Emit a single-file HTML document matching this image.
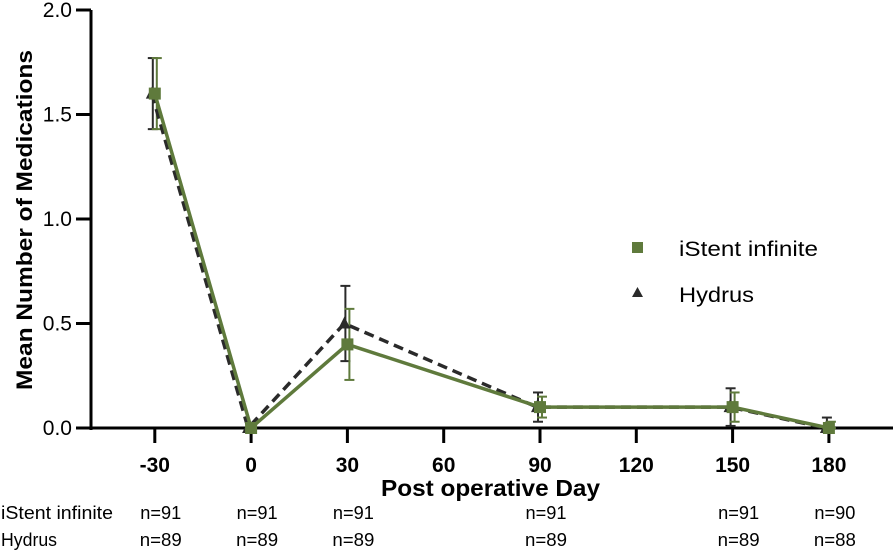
<!DOCTYPE html>
<html><head><meta charset="utf-8"><style>
body{margin:0;background:#fff;}
svg{display:block;font-family:"Liberation Sans",Arial,sans-serif;}
</style></head><body>
<svg id="chart" width="896" height="552" viewBox="0 0 896 552"></svg>
<script>
const days=[-30,0,30,90,150,180];
const xTicks=[-30,0,30,60,90,120,150,180];
const yTicks=[0,0.5,1.0,1.5,2.0];
const istentMean=[1.6,0,0.4,0.1,0.1,0];
const istentLo=[1.43,0,0.23,0.05,0.03,0];
const istentHi=[1.77,0,0.57,0.15,0.17,0.03];
const hydrusMean=[1.6,0,0.5,0.1,0.1,0];
const hydrusLo=[1.43,0,0.32,0.03,0.01,0];
const hydrusHi=[1.77,0,0.68,0.17,0.19,0.05];
const istentN=["n=91","n=91","n=91","n=91","n=91","n=90"];
const hydrusN=["n=89","n=89","n=89","n=89","n=89","n=88"];
const G="#5f7a3c",D="#2a2a2a";
const NS="http://www.w3.org/2000/svg";
const svg=document.getElementById('chart');
const X=v=>540+(v-90)*3.21;
const Y=v=>428-v*209;
function mk(t,a,p){const e=document.createElementNS(NS,t);for(const k in a)e.setAttribute(k,a[k]);(p||svg).appendChild(e);return e;}
function txt(s,a){const e=mk('text',a);e.textContent=s;return e;}
let e=mk('line',{x1:91,y1:Y(2),x2:91,y2:430,stroke:'#000','stroke-width':3});

e=mk('line',{x1:89.5,y1:428,x2:893,y2:428,stroke:'#000','stroke-width':3});

yTicks.forEach(v=>{
 mk('line',{x1:76,y1:Y(v),x2:91,y2:Y(v),stroke:'#000','stroke-width':3});
 e=txt(v.toFixed(1),{x:72,y:Y(v)+7,'text-anchor':'end','font-size':21,fill:'#000'});
 
});
xTicks.forEach(v=>{
 mk('line',{x1:X(v),y1:428,x2:X(v),y2:443,stroke:'#000','stroke-width':3});
 e=txt(String(v),{x:X(v),y:472,'text-anchor':'middle','font-size':21,'font-weight':'bold',fill:'#000'});
 
});
e=txt('Post operative Day',{x:381,y:496,'font-size':23,'font-weight':'bold',textLength:219,lengthAdjust:'spacingAndGlyphs'});

e=txt('Mean Number of Medications',{x:0,y:0,'font-size':22,'font-weight':'bold',textLength:340,lengthAdjust:'spacingAndGlyphs',transform:'translate(32,390) rotate(-90)'});

function errs(lo,hi,col,dx){days.forEach((d,i)=>{if(hi[i]-lo[i]<=0)return;const x=X(d)+dx;
 mk('line',{x1:x,y1:Y(lo[i]),x2:x,y2:Y(hi[i]),stroke:col,'stroke-width':2});
 mk('line',{x1:x-5,y1:Y(lo[i]),x2:x+5,y2:Y(lo[i]),stroke:col,'stroke-width':2});
 mk('line',{x1:x-5,y1:Y(hi[i]),x2:x+5,y2:Y(hi[i]),stroke:col,'stroke-width':2});});}
errs(hydrusLo,hydrusHi,D,-2);
errs(istentLo,istentHi,G,2);
e=mk('polyline',{points:days.map((d,i)=>(X(d)-3)+','+Y(hydrusMean[i])).join(' '),fill:'none',stroke:D,'stroke-width':3.5,'stroke-dasharray':'10,6'});

days.forEach((d,i)=>{const x=X(d)-3,y=Y(hydrusMean[i]);
 e=mk('polygon',{points:`${x},${y-7} ${x-6},${y+5} ${x+6},${y+5}`,fill:D});
 });
e=mk('polyline',{points:days.map((d,i)=>X(d)+','+Y(istentMean[i])).join(' '),fill:'none',stroke:G,'stroke-width':3.5});

days.forEach((d,i)=>{const x=X(d),y=Y(istentMean[i]);
 e=mk('rect',{x:x-6,y:y-6,width:12,height:12,fill:G});
 });
e=mk('rect',{x:632,y:242,width:11,height:11,fill:G});

e=txt('iStent infinite',{x:679,y:256,'font-size':21,textLength:139,lengthAdjust:'spacingAndGlyphs'});

e=mk('polygon',{points:'637.5,287 632,297 643,297',fill:D});

e=txt('Hydrus',{x:679,y:302,'font-size':21,textLength:75,lengthAdjust:'spacingAndGlyphs'});

e=txt('iStent infinite',{x:1,y:519,'font-size':18,textLength:112,lengthAdjust:'spacingAndGlyphs'});

e=txt('Hydrus',{x:1,y:546,'font-size':18,textLength:56,lengthAdjust:'spacingAndGlyphs'});

days.forEach((d,i)=>{
 e=txt(istentN[i],{x:X(d)+6,y:519,'text-anchor':'middle','font-size':18,textLength:41,lengthAdjust:'spacingAndGlyphs'});
 
 e=txt(hydrusN[i],{x:X(d)+6,y:546,'text-anchor':'middle','font-size':18,textLength:42,lengthAdjust:'spacingAndGlyphs'});
 
});
</script>
</body></html>
